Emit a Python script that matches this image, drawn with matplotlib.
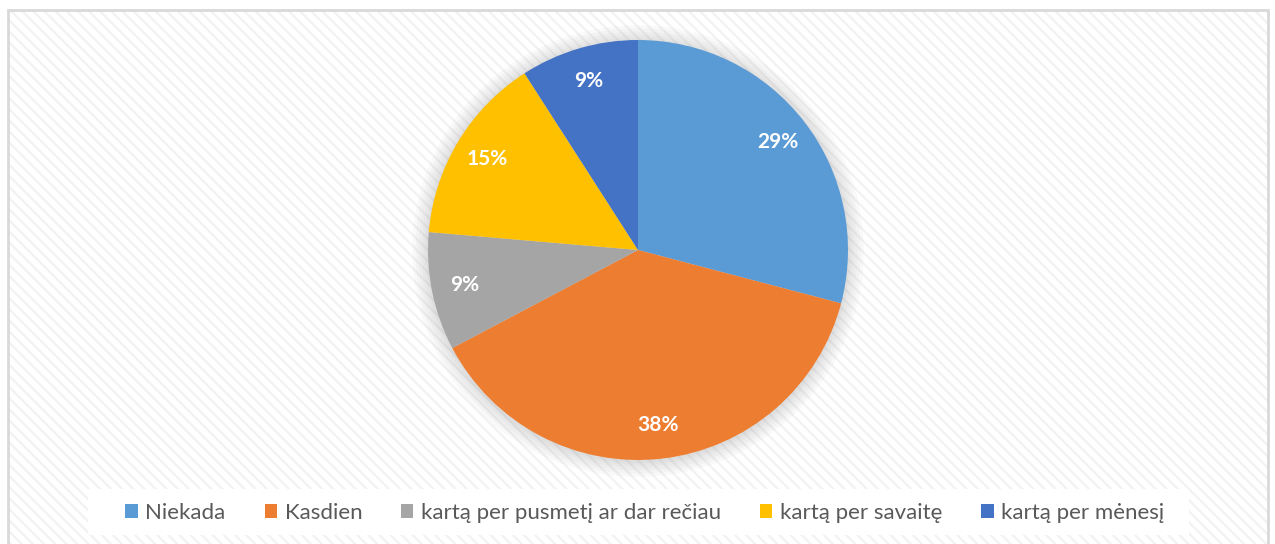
import matplotlib
matplotlib.use("Agg")
import matplotlib.pyplot as plt
from matplotlib.patches import Rectangle, Circle

plt.rcParams["font.family"] = ["Lato", "DejaVu Sans"]
plt.rcParams["hatch.linewidth"] = 1.6

labels = ["Niekada", "Kasdien", "kartą per pusmetį ar dar rečiau",
          "kartą per savaitę", "kartą per mėnesį"]
shares = [29.09, 38.18, 9.09, 14.55, 9.09]
colors = ["#5B9BD5", "#ED7D31", "#A5A5A5", "#FFC000", "#4472C4"]

W, H = 1275, 544
fig = plt.figure(figsize=(W / 100, H / 100), dpi=100)
fig.patch.set_facecolor("white")

# chart area: light diagonal stripes, thin grey border
bg = Rectangle((8 / W, -0.1), 1260 / W, 1.1 - 10 / H, transform=fig.transFigure,
               facecolor="white", edgecolor="#F2F2F2", hatch="\\\\\\", lw=0, zorder=-10)
fig.patches.append(bg)
border = Rectangle((8 / W, -0.1), 1260 / W, 1.1 - 10 / H, transform=fig.transFigure,
                   facecolor="none", edgecolor="#D9D9D9", lw=2.0, zorder=-9)
fig.patches.append(border)
# white legend panel
panel = Rectangle((88 / W, 1 - 535 / H), 1101 / W, 46 / H, transform=fig.transFigure,
                  facecolor="white", edgecolor="none", zorder=-8)
fig.patches.append(panel)

ax = fig.add_axes([407 / W, 63 / H, 462 / W, 462 / H])
ax.axis("off")
# soft shadow around the pie
for r in [1.075, 1.06, 1.045, 1.03, 1.018, 1.008]:
    ax.add_patch(Circle((0, -0.005), r, facecolor="#7F7F7F", alpha=0.045, lw=0, zorder=0))

wedges, _, autotexts = ax.pie(shares, colors=colors, startangle=90, counterclock=False,
                              radius=1.0, autopct=lambda p: f"{p:.0f}%", pctdistance=0.84,
                              wedgeprops=dict(lw=0))
ax.set_xlim(-1.1, 1.1)
ax.set_ylim(-1.1, 1.1)
ax.set_aspect("equal")
for t in autotexts:
    t.set_color("white")
    t.set_fontweight("bold")
    t.set_fontsize(15)

leg = fig.legend(wedges, labels, loc="center", bbox_to_anchor=(645 / W, 1 - 513 / H),
                 ncol=5, frameon=False, fontsize=16, handlelength=0.55, handleheight=0.55,
                 handletextpad=0.35, columnspacing=1.75)
for t in leg.get_texts():
    t.set_color("#595959")

fig.savefig("out.png", dpi=100, facecolor="white")
